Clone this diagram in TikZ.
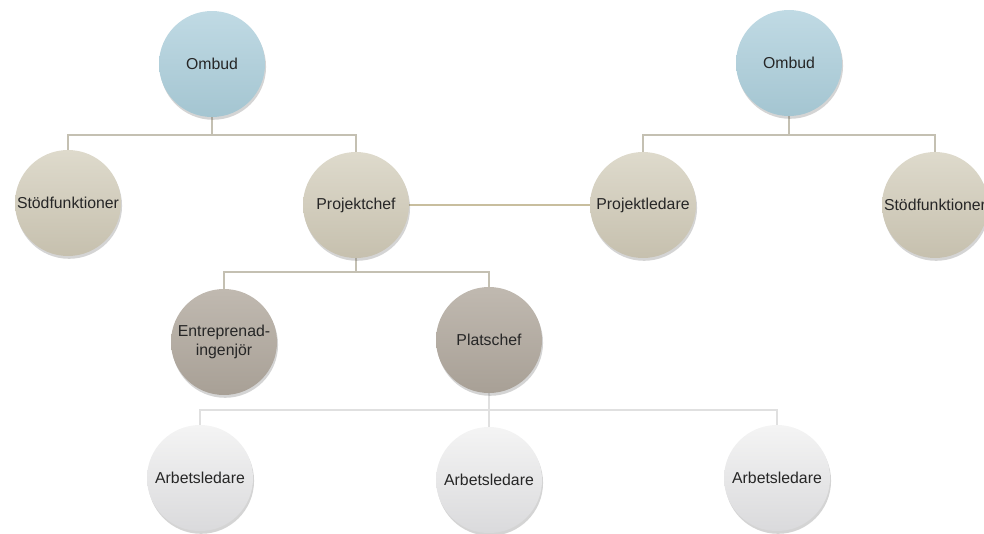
\documentclass[tikz,border=0pt]{standalone}
\usepackage{fontspec}
\setmainfont{Liberation Sans}
\usetikzlibrary{positioning, calc, shadows, backgrounds}
\definecolor{ombudtop}{RGB}{192,218,228}
\definecolor{ombudbot}{RGB}{164,197,209}
\definecolor{beigetop}{RGB}{222,218,204}
\definecolor{beigebot}{RGB}{198,192,174}
\definecolor{taupetop}{RGB}{192,185,176}
\definecolor{taupebot}{RGB}{168,160,150}
\definecolor{greytop}{RGB}{244,244,244}
\definecolor{greybot}{RGB}{218,218,220}
\definecolor{buscol}{RGB}{196,192,178}
\definecolor{tiecol}{RGB}{200,190,158}
\definecolor{buslight}{RGB}{224,224,224}

\begin{document}
\begin{tikzpicture}[
    font=\fontsize{9}{10.5}\selectfont,
    role/.style    ={circle, minimum size=21.2mm, inner sep=0pt, align=center,
                     text=black!85,
                     drop shadow={shadow xshift=0.6pt, shadow yshift=-1.6pt,
                                  opacity=0.28, fill=black!60}},
    ombud/.style   ={role, top color=ombudtop, bottom color=ombudbot},
    stod/.style    ={role, top color=beigetop, bottom color=beigebot},
    ledning/.style ={role, top color=taupetop, bottom color=taupebot},
    arbet/.style   ={role, top color=greytop, bottom color=greybot},
    bus/.style     ={line width=1.1pt, buscol},
    buslow/.style  ={line width=1.1pt, buslight},
    tie/.style     ={line width=1.5pt, tiecol},
  ]
  \useasboundingbox (0,0) rectangle (19.68,-10.68);

  % ---- top level ----
  \node[ombud] (omL) at (4.24,-1.28)  {Ombud};
  \node[ombud] (omR) at (15.78,-1.26) {Ombud};

  % ---- second level ----
  \node[stod] (stL) at (1.36,-4.06) {Stödfunktioner};
  \node[stod] (pc)  at (7.12,-4.10) {Projektchef};
  \node[stod] (pl)  at (12.86,-4.10) {Projektledare};
  \node[stod] (stR) at (18.70,-4.10) {Stödfunktioner};

  % ---- site level ----
  \node[ledning] (ent) at (4.48,-6.84) {Entreprenad-\\ingenjör};
  \node[ledning] (ps)  at (9.78,-6.80) {Platschef};

  % ---- foremen ----
  \node[arbet] (ar1) at (4.00,-9.56)  {Arbetsledare};
  \node[arbet] (ar2) at (9.78,-9.60)  {Arbetsledare};
  \node[arbet] (ar3) at (15.54,-9.56) {Arbetsledare};

  % bus heights
  \coordinate (busA) at (0,-2.70);
  \coordinate (busB) at (0,-5.44);
  \coordinate (busC) at (0,-8.20);

  % ---- connectors (behind the circles) ----
  \begin{scope}[on background layer]
    \draw[bus] (omL.south) -- (omL |- busA) -| (stL.north);
    \draw[bus] (omL |- busA) -| (pc.north);
    \draw[bus] (omR.south) -- (omR |- busA) -| (pl.north);
    \draw[bus] (omR |- busA) -| (stR.north);
    \draw[tie] (pc.east) -- (pl.west);
    \draw[bus] (pc.south) -- (pc |- busB) -| (ent.north);
    \draw[bus] (pc |- busB) -| (ps.north);
    \draw[buslow] (ps.south) -- (ps |- busC) -| (ar1.north);
    \draw[buslow] (ps |- busC) -| (ar3.north);
    \draw[buslow] (ps |- busC) -- (ar2.north);
  \end{scope}

\end{tikzpicture}
\end{document}
